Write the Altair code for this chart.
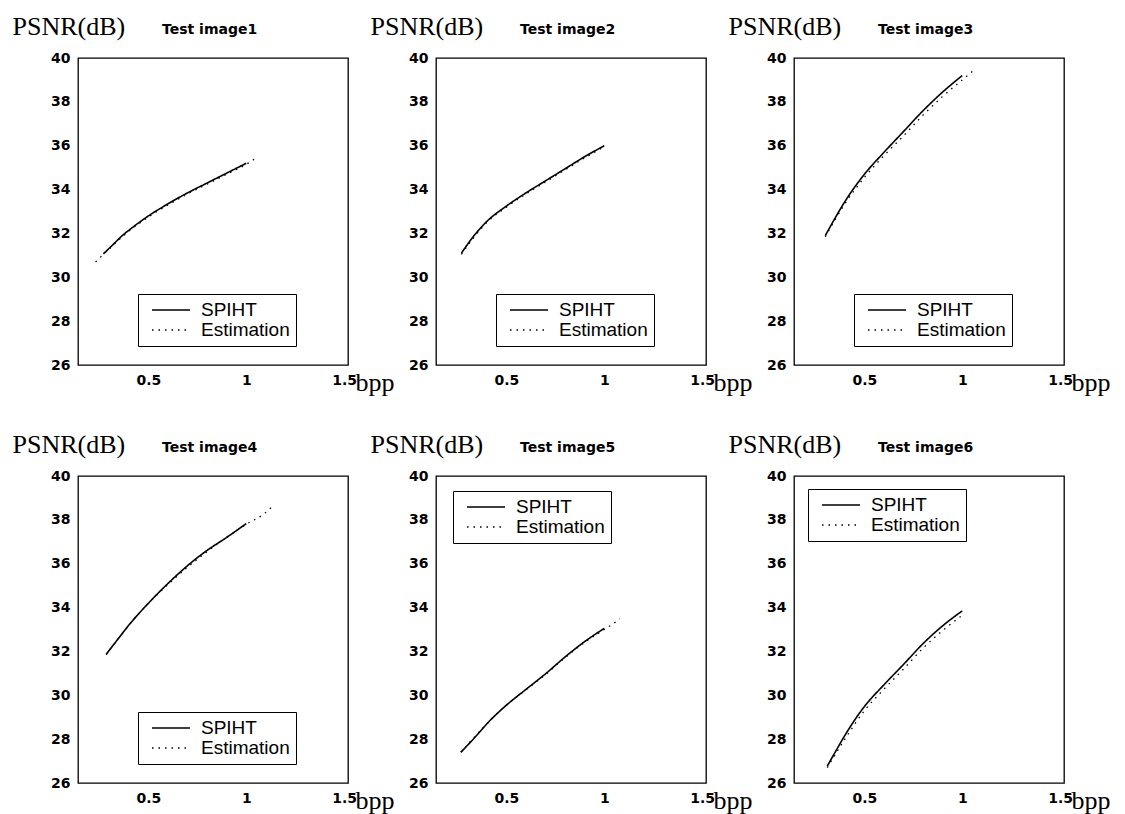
import altair as alt
import pandas as pd

titles = ["Test image1", "Test image2", "Test image3",
          "Test image4", "Test image5", "Test image6"]
series_names = ["SPIHT", "Estimation"]
x_ticks = [0.5, 1, 1.5]
y_ticks = [26, 28, 30, 32, 34, 36, 38, 40]

spiht_x = [
    [0.27, 0.32, 0.36, 0.43, 0.50, 0.60, 0.70, 0.80, 0.90, 1.00],
    [0.27, 0.33, 0.40, 0.50, 0.60, 0.70, 0.80, 0.90, 1.00],
    [0.30, 0.35, 0.40, 0.50, 0.60, 0.70, 0.80, 0.90, 1.00],
    [0.284, 0.35, 0.40, 0.50, 0.60, 0.70, 0.80, 0.90, 1.00],
    [0.267, 0.30, 0.35, 0.40, 0.50, 0.60, 0.70, 0.80, 0.90, 1.00],
    [0.31, 0.35, 0.40, 0.50, 0.60, 0.70, 0.80, 0.90, 1.00],
]
spiht_y = [
    [31.07, 31.5, 31.85, 32.35, 32.8, 33.35, 33.85, 34.3, 34.75, 35.2],
    [31.1, 31.85, 32.55, 33.25, 33.85, 34.4, 34.95, 35.5, 36.0],
    [31.9, 32.7, 33.45, 34.7, 35.7, 36.65, 37.6, 38.45, 39.2],
    [31.87, 32.63, 33.2, 34.2, 35.1, 35.91, 36.61, 37.2, 37.83],
    [27.4, 27.71, 28.19, 28.7, 29.55, 30.27, 30.98, 31.75, 32.45, 33.05],
    [26.77, 27.4, 28.17, 29.49, 30.48, 31.41, 32.36, 33.17, 33.85],
]
est_x = [
    [0.23, 0.30, 0.40, 0.50, 0.60, 0.70, 0.80, 0.90, 1.00, 1.06],
    [0.27, 0.40, 0.50, 0.60, 0.70, 0.80, 0.90, 1.00],
    [0.30, 0.40, 0.50, 0.60, 0.70, 0.80, 0.90, 1.00, 1.06],
    [0.284, 0.40, 0.50, 0.60, 0.70, 0.80, 0.90, 1.00, 1.09, 1.13],
    [0.267, 0.40, 0.50, 0.60, 0.70, 0.80, 0.90, 1.00, 1.04, 1.08],
    [0.31, 0.40, 0.50, 0.60, 0.70, 0.80, 0.90, 1.00],
]
est_y = [
    [30.7, 31.3, 32.1, 32.75, 33.3, 33.8, 34.25, 34.7, 35.15, 35.5],
    [31.05, 32.5, 33.2, 33.8, 34.35, 34.9, 35.45, 35.95],
    [31.85, 33.35, 34.55, 35.55, 36.45, 37.4, 38.25, 39.0, 39.45],
    [31.85, 33.2, 34.2, 35.05, 35.85, 36.55, 37.2, 37.8, 38.27, 38.58],
    [27.4, 28.7, 29.55, 30.25, 30.95, 31.72, 32.42, 33.0, 33.23, 33.49],
    [26.7, 28.0, 29.3, 30.28, 31.2, 32.15, 32.95, 33.65],
]
legend_xy = [(60, 236), (60, 236), (60, 236), (60, 236), (17, 15), (14, 13)]

W, H = 270, 307


def panel(i):
    rows = []
    for x, y in zip(spiht_x[i], spiht_y[i]):
        rows.append({"bpp": x, "psnr": y, "series": series_names[0]})
    for x, y in zip(est_x[i], est_y[i]):
        rows.append({"bpp": x, "psnr": y, "series": series_names[1]})
    df = pd.DataFrame(rows)
    lx, ly = legend_xy[i]
    return alt.Chart(
        df,
        title=alt.Title(titles[i], anchor="start", frame="group", dx=84, dy=28,
                        font="DejaVu Sans", fontSize=14, fontWeight="bold",
                        color="black"),
    ).mark_line(color="black", interpolate="monotone").encode(
        x=alt.X("bpp:Q",
                scale=alt.Scale(domain=[0.14, 1.52], nice=False, zero=False),
                axis=alt.Axis(values=x_ticks, format="~g", title="bpp",
                              titleX=W + 7, titleY=25, titleAlign="left",
                              titleBaseline="alphabetic", labelFlush=False)),
        y=alt.Y("psnr:Q",
                scale=alt.Scale(domain=[26, 40], nice=False, zero=False),
                axis=alt.Axis(values=y_ticks, format="d", title="PSNR(dB)",
                              titleAngle=0, titleX=-66, titleY=-24,
                              titleAlign="left", titleBaseline="alphabetic",
                              labelFlush=False)),
        strokeDash=alt.StrokeDash(
            "series:N",
            scale=alt.Scale(domain=series_names, range=[[1, 0], [1.5, 5]]),
            legend=alt.Legend(
                title=None, orient="none", legendX=lx, legendY=ly,
                strokeColor="black", fillColor="white", padding=6,
                symbolType="stroke", symbolSize=1444, symbolStrokeWidth=1.5,
                symbolStrokeColor="black", symbolOffset=7,
                labelFont="Liberation Sans", labelFontSize=19,
                labelColor="black", labelOffset=10, clipHeight=20,
                rowPadding=0,
            ),
        ),
        strokeWidth=alt.StrokeWidth(
            "series:N",
            scale=alt.Scale(domain=series_names, range=[1.6, 1.3]),
            legend=None),
    ).properties(width=W, height=H)


chart = alt.concat(
    *[panel(i) for i in range(6)],
    columns=3,
    spacing={"row": 111, "column": 88},
    bounds="flush",
).resolve_scale(
    strokeDash="independent", strokeWidth="independent"
).resolve_legend(
    strokeDash="independent", strokeWidth="independent"
).properties(
    padding={"left": 11, "top": 12, "right": 10, "bottom": 2},
    background="white",
).configure_view(
    stroke="black", strokeWidth=1.3
).configure_axis(
    grid=False, domain=False, ticks=False, labelPadding=8,
    labelFont="DejaVu Sans", labelFontWeight="bold", labelFontSize=14,
    labelColor="black",
    titleFont="Liberation Serif", titleFontSize=26, titleFontWeight="normal",
    titleColor="black",
)

chart.save("out.html", embed_options={"renderer": "svg", "actions": False})
